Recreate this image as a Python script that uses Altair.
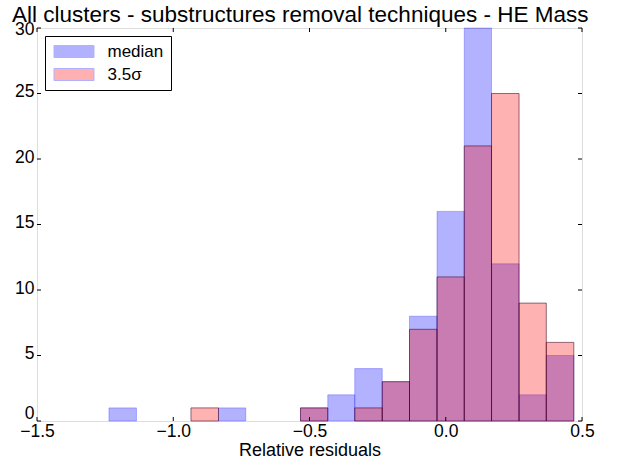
import altair as alt
import pandas as pd

# Histogram bin edges (shared by both series)
edges = [-1.236, -1.135, -1.035, -0.935, -0.834, -0.734, -0.634, -0.533, -0.433,
         -0.334, -0.233, -0.133, -0.032, 0.068, 0.168, 0.269, 0.369, 0.470]
median_counts = [1, 0, 0, 0, 1, 0, 0, 1, 2, 4, 3, 8, 16, 30, 12, 2, 5]
sigma_counts = [0, 0, 0, 1, 0, 0, 0, 1, 0, 1, 3, 7, 11, 21, 25, 9, 6]
series_names = ["median", "3.5σ"]
x_ticks = [-1.5, -1.0, -0.5, 0.0, 0.5]
y_ticks = [0, 5, 10, 15, 20, 25, 30]

rows = []
for name, counts in zip(series_names, [median_counts, sigma_counts]):
    for i, c in enumerate(counts):
        if c > 0:
            rows.append({"start": edges[i], "end": edges[i + 1], "count": c, "series": name})
df = pd.DataFrame(rows)
xt = pd.DataFrame({"v": x_ticks})
yt = pd.DataFrame({"v": y_ticks})

W, H = 545, 393
FONT = "Liberation Sans"

xscale = alt.Scale(domain=[-1.5, 0.5], nice=False, zero=False)
yscale = alt.Scale(domain=[0, 30], nice=False)
cscale = alt.Scale(domain=series_names, range=["#0000ff", "#ff0000"])

x_enc = alt.X("start:Q", scale=xscale,
              axis=alt.Axis(values=x_ticks, format=".1f", title="Relative residuals",
                            grid=False, domain=False, ticks=False, labelPadding=1,
                            labelFlush=False,
                            labelFontSize=17.5, titleFontSize=18, titleFontWeight="normal",
                            labelColor="black", titleColor="black", titlePadding=2,
                            labelFont=FONT, titleFont=FONT))
y_enc = alt.Y("count:Q", scale=yscale,
              axis=alt.Axis(values=y_ticks, format="d", title=None, grid=False,
                            domain=False, ticks=False, labelPadding=3, labelFontSize=17.5,
                            labelFlush=False,
                            labelColor="black", labelFont=FONT, labelBaseline="middle",
                            labelOffset={"condition": [
                                {"test": "datum.value == 0", "value": -8},
                                {"test": "datum.value == 30", "value": 1}],
                                "value": -2}))

color_enc = alt.Color("series:N", scale=cscale, sort=series_names,
                      legend=alt.Legend(title=None, orient="none", legendX=8, legendY=8,
                                        strokeColor="black", fillColor="white",
                                        padding=7, rowPadding=5,
                                        symbolType="M-3.33,-1H3.33V1H-3.33Z", symbolSize=144,
                                        symbolOffset=13.5,
                                        symbolOpacity=0.3, symbolStrokeWidth=1,
                                        labelFontSize=17, labelFont=FONT,
                                        labelColor="black", labelOffset=25,
                                        cornerRadius=0))

blue = alt.Chart(df).transform_filter(alt.datum.series == "median").mark_bar(
    fillOpacity=0.3, stroke="#0000ff", strokeOpacity=0.25, strokeWidth=1
).encode(x=x_enc, x2="end:Q", y=y_enc, y2=alt.datum(0), color=color_enc)

red = alt.Chart(df).transform_filter(alt.datum.series == "3.5σ").mark_bar(
    fillOpacity=0.3, stroke="#400020", strokeOpacity=0.55, strokeWidth=1
).encode(x=x_enc, x2="end:Q", y=y_enc, y2=alt.datum(0), color=color_enc)

tick_x_bottom = alt.Chart(xt).mark_rule(color="black", strokeWidth=1).encode(
    x=alt.X("v:Q", scale=xscale), y=alt.value(H), y2=alt.value(H - 4))
tick_x_top = alt.Chart(xt).mark_rule(color="black", strokeWidth=1).encode(
    x=alt.X("v:Q", scale=xscale), y=alt.value(0), y2=alt.value(4))
tick_y_left = alt.Chart(yt).mark_rule(color="black", strokeWidth=1).encode(
    y=alt.Y("v:Q", scale=yscale), x=alt.value(0), x2=alt.value(4))
tick_y_right = alt.Chart(yt).mark_rule(color="black", strokeWidth=1).encode(
    y=alt.Y("v:Q", scale=yscale), x=alt.value(W), x2=alt.value(W - 4))

chart = alt.layer(blue, red, tick_x_bottom, tick_x_top, tick_y_left, tick_y_right).properties(
    width=W, height=H,
    autosize=alt.AutoSizeParams(type="none"),
    padding={"left": 37, "top": 28, "right": 51, "bottom": 40},
    title=alt.TitleParams("All clusters - substructures removal techniques - HE Mass",
                          anchor="start", frame="group", fontSize=22.5, fontWeight="normal",
                          font=FONT, color="black", dx=-25, dy=6, offset=0),
).configure_view(stroke="#444444", strokeWidth=1).configure(background="white")

chart.save("out.html", embed_options={"renderer": "svg", "actions": False})
